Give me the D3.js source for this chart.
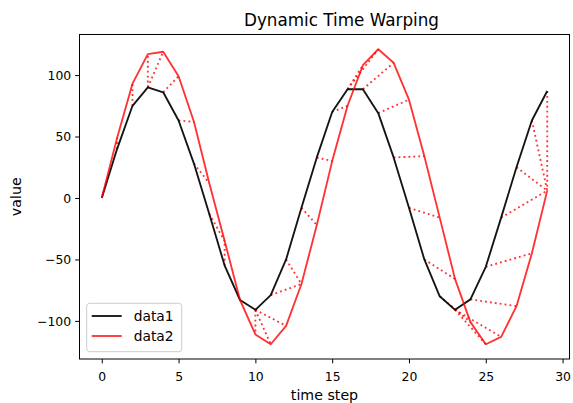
<!DOCTYPE html>
<html>
<head>
<meta charset="utf-8">
<script src="https://cdn.jsdelivr.net/npm/d3@7"></script>
<style>
	body { margin: 0; background: #fff; }
	svg text { font-family: "DejaVu Sans", sans-serif; fill: #000; }
</style>
</head>
<body>
<div id="chart"></div>
<script>
// values
var timeSteps = [0, 1, 2, 3, 4, 5, 6, 7, 8, 9, 10, 11, 12, 13, 14, 15, 16, 17, 18, 19, 20, 21, 22, 23, 24, 25, 26, 27, 28, 29];
var data1 = [0, 40, 75, 90, 86, 63, 28, -13, -55, -83, -91, -79, -50, -8, 33, 70, 88.5, 88.5, 69, 33, -8, -50, -80, -91, -82.5, -56, -16, 25, 63, 87];
var data2 = [0, 49, 93, 117, 119, 99, 62, 12, -35, -83, -111, -119, -104, -70, -22, 30, 75, 108, 121, 110, 80, 34, -16, -66, -101, -119, -113, -88, -45, 6];
// warping path: [index in data1, index in data2]
var warpPath = [[0,0],[1,1],[2,2],[3,3],[3,4],[4,5],[5,6],[6,7],[7,8],[8,8],[9,9],[10,10],[10,11],[10,12],[11,13],[12,13],[13,14],[14,15],[15,16],[16,17],[16,18],[17,19],[18,20],[19,21],[20,22],[21,23],[22,24],[23,25],[23,26],[24,27],[25,28],[26,29],[27,29],[28,29],[29,29]];
var xTicks = [0, 5, 10, 15, 20, 25, 30];
var yTicks = [-100, -50, 0, 50, 100];
var seriesNames = ["data1", "data2"];

var DtwChart = function(TargetDiv) {

	var width = 573, height = 403;
	var marginLeft = 79.5, marginTop = 34.5, plotW = 490, plotH = 324.5;

	var svg = d3.select(TargetDiv)
		.append("svg")
		.attr("width", width)
		.attr("height", height);

	// matplotlib style 5% padding on both axes
	var xMin = d3.min(timeSteps), xMax = d3.max(timeSteps);
	var xPad = (xMax - xMin) * 0.05;
	var allY = data1.concat(data2);
	var yMin = d3.min(allY), yMax = d3.max(allY);
	var yPad = (yMax - yMin) * 0.05;

	var x = d3.scaleLinear().domain([xMin - xPad, xMax + xPad]).range([0, plotW]),
		y = d3.scaleLinear().domain([yMin - yPad, yMax + yPad]).range([plotH, 0]);

	var g = svg.append("g")
		.attr("transform", "translate(" + marginLeft + "," + marginTop + ")");

	var red = "rgba(255,0,0,0.8)";
	var black = "rgba(0,0,0,0.92)";

	//dotted connections for the warping path
	g.selectAll(".warp")
		.data(warpPath)
	  .enter().append("line")
		.attr("class", "warp")
		.attr("x1", function(d) { return x(timeSteps[d[0]]); })
		.attr("y1", function(d) { return y(data1[d[0]]); })
		.attr("x2", function(d) { return x(timeSteps[d[1]]); })
		.attr("y2", function(d) { return y(data2[d[1]]); })
		.attr("stroke", red)
		.attr("stroke-width", 1.86)
		.attr("stroke-dasharray", "1.86,3.07");

	var line1 = d3.line()
		.x(function(d, i) { return x(timeSteps[i]); })
		.y(function(d) { return y(d); });

	g.append("path")
		.datum(data1)
		.attr("fill", "none")
		.attr("stroke", black)
		.attr("stroke-width", 1.86)
		.attr("stroke-linejoin", "round")
		.attr("d", line1);

	g.append("path")
		.datum(data2)
		.attr("fill", "none")
		.attr("stroke", red)
		.attr("stroke-width", 1.86)
		.attr("stroke-linejoin", "round")
		.attr("d", line1);

	// axes
	var xAxis = g.append("g")
		.attr("transform", "translate(0," + plotH + ")")
		.call(d3.axisBottom(x).tickValues(xTicks).tickSize(4.35).tickPadding(4));
	var yAxis = g.append("g")
		.call(d3.axisLeft(y).tickValues(yTicks).tickSize(4.35).tickPadding(4)
			.tickFormat(function(d) { return d < 0 ? "\u2212" + Math.abs(d) : d; }));

	[xAxis, yAxis].forEach(function(a) {
		a.select(".domain").remove();
		a.selectAll("line").attr("stroke", "#000").attr("stroke-width", 1);
		a.selectAll("text").attr("font-size", "12.4px").attr("fill", "#000");
	});
	xAxis.selectAll("text").attr("dy", null).attr("y", 21.5);
	yAxis.selectAll("text").attr("dy", "0.35em");

	// frame
	g.append("rect")
		.attr("x", 0).attr("y", 0)
		.attr("width", plotW).attr("height", plotH)
		.attr("fill", "none")
		.attr("stroke", "#000")
		.attr("stroke-width", 1);

	// legend
	var legend = g.append("g").attr("transform", "translate(7.2,268.8)");
	legend.append("rect")
		.attr("width", 95).attr("height", 48.4)
		.attr("rx", 3).attr("ry", 3)
		.attr("fill", "rgba(255,255,255,0.8)")
		.attr("stroke", "#cccccc")
		.attr("stroke-width", 1);
	[black, red].forEach(function(c, i) {
		legend.append("line")
			.attr("x1", 5).attr("x2", 35)
			.attr("y1", 12.7 + i * 20).attr("y2", 12.7 + i * 20)
			.attr("stroke", c).attr("stroke-width", 1.86);
		legend.append("text")
			.attr("x", 47).attr("y", 12.7 + i * 20)
			.attr("dy", "0.35em")
			.attr("font-size", "13.8px")
			.text(seriesNames[i]);
	});

	// titles
	svg.append("text")
		.attr("x", 341.5)
		.attr("y", 26)
		.attr("text-anchor", "middle")
		.attr("font-size", "16.8px")
		.text("Dynamic Time Warping");

	svg.append("text")
		.attr("x", marginLeft + plotW / 2)
		.attr("y", 400)
		.attr("text-anchor", "middle")
		.attr("font-size", "14.2px")
		.text("time step");

	svg.append("text")
		.attr("transform", "translate(21," + (marginTop + plotH / 2) + ") rotate(-90)")
		.attr("text-anchor", "middle")
		.attr("font-size", "14.2px")
		.text("value");
}

DtwChart("#chart");
</script>
</body>
</html>
